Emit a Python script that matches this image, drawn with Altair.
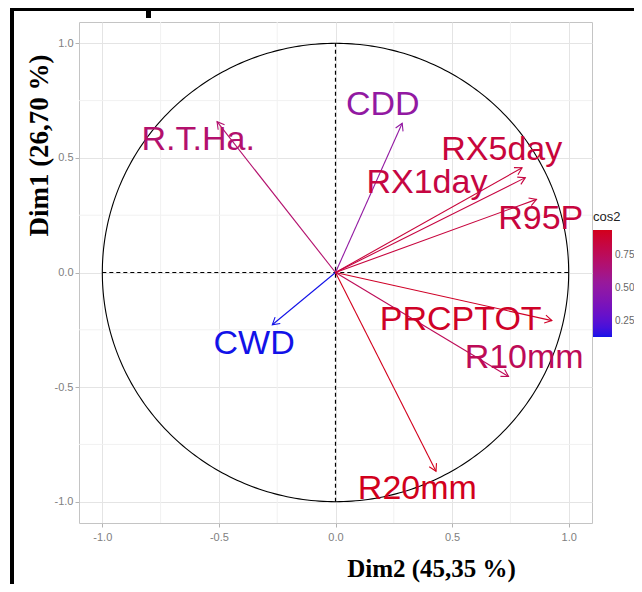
import altair as alt
import pandas as pd
import numpy as np

# ---- data ----
variables = ["CDD", "R.T.Ha.", "RX5day", "RX1day", "R95P", "CWD", "PRCPTOT", "R10mm", "R20mm"]
dim2 = [0.286, -0.508, 0.800, 0.814, 0.862, -0.271, 0.928, 0.742, 0.431]
dim1 = [0.651, 0.658, 0.457, 0.414, 0.319, -0.228, -0.210, -0.454, -0.867]
cos2 = [0.51, 0.69, 0.85, 0.83, 0.84, 0.13, 0.91, 0.76, 0.94]
label_x = [0.203, -0.589, 0.713, 0.392, 0.880, -0.349, 0.537, 0.809, 0.351]
label_y = [0.731, 0.578, 0.534, 0.390, 0.233, -0.314, -0.209, -0.371, -0.945]
major_ticks = [-1.0, -0.5, 0.0, 0.5, 1.0]
minor_ticks = [-0.75, -0.25, 0.25, 0.75]
legend_ticks = [0.25, 0.50, 0.75]

W, H = 513, 501
XDOM = [-1.1, 1.1]
YDOM = [-1.093, 1.093]
sx = W / (XDOM[1] - XDOM[0])
sy = H / (YDOM[1] - YDOM[0])

df = pd.DataFrame({"var": variables, "x": dim2, "y": dim1, "cos2": cos2,
                   "lx": label_x, "ly": label_y})
df["x0"] = 0.0
df["y0"] = 0.0
df["ang"] = np.degrees(np.arctan2(-df["y"] * sy, df["x"] * sx)) % 360

t = np.linspace(0, 2 * np.pi, 361)
circle = pd.DataFrame({"cx": np.cos(t), "cy": np.sin(t), "o": np.arange(361)})

xs = alt.Scale(domain=XDOM, nice=False, zero=False)
ys = alt.Scale(domain=YDOM, nice=False, zero=False)
cs = alt.Scale(domain=[min(cos2), max(cos2)],
               range=["#1212E8", "#961A9E", "#D2001C"], interpolate="lab")

lab_expr = "datum.value < 0 ? '-' + format(-datum.value, '.1f') : format(datum.value, '.1f')"

xaxis = alt.Axis(values=major_ticks, labelExpr=lab_expr, grid=True, gridColor="#e4e4e4",
                 domain=False, tickColor="#b3b3b3", tickSize=4, labelColor="#808080",
                 labelFontSize=11, labelFont="Liberation Sans", labelPadding=4,
                 title="Dim2 (45,35 %)", titleFont="Liberation Serif", titleFontWeight="bold",
                 titleFontSize=25, titleColor="black", titleX=352, titleY=45,
                 titleAlign="center", titleBaseline="middle")
yaxis = alt.Axis(values=major_ticks, labelExpr=lab_expr, grid=True, gridColor="#e4e4e4",
                 domain=False, tickColor="#b3b3b3", tickSize=4, labelColor="#808080",
                 labelFontSize=11, labelFont="Liberation Sans", labelPadding=2,
                 title="Dim1 (26,70 %)", titleFont="Liberation Serif", titleFontWeight="bold",
                 titleFontSize=27, titleColor="black", titleX=-40, titleY=123,
                 titleAlign="center", titleBaseline="middle", titleAngle=270)

legend = alt.Legend(title="cos2", type="gradient", orient="none", legendX=514, legendY=189,
                    direction="vertical", gradientLength=107, gradientThickness=19,
                    gradientStrokeWidth=0, values=legend_ticks, format=".2f",
                    titleFontSize=13, titleFont="Liberation Sans", titleFontWeight="normal",
                    titleColor="#222222", titlePadding=6, labelFontSize=10,
                    labelFont="Liberation Sans", labelColor="#666666", labelOffset=3,
                    labelOverlap=False)
color_leg = alt.Color("cos2:Q", scale=cs, legend=legend)
color_noleg = alt.Color("cos2:Q", scale=cs, legend=None)

minor_df = pd.DataFrame({"v": minor_ticks})
minor_x = alt.Chart(minor_df).mark_rule(color="#f1f1f1", strokeWidth=1).encode(
    x=alt.X("v:Q", scale=xs, axis=xaxis))
minor_y = alt.Chart(minor_df).mark_rule(color="#f1f1f1", strokeWidth=1).encode(
    y=alt.Y("v:Q", scale=ys, axis=yaxis))

ref_df = pd.DataFrame({"a": [-1.0, 0.0], "a2": [1.0, 0.0], "b": [0.0, -1.0], "b2": [0.0, 1.0]})
ref = alt.Chart(ref_df).mark_rule(color="black", strokeWidth=1.2, strokeDash=[4, 3]).encode(
    x=alt.X("a:Q", scale=xs, axis=xaxis), x2="a2:Q",
    y=alt.Y("b:Q", scale=ys, axis=yaxis), y2="b2:Q")

circ = alt.Chart(circle).mark_line(color="black", strokeWidth=1.1).encode(
    x=alt.X("cx:Q", scale=xs, axis=xaxis), y=alt.Y("cy:Q", scale=ys, axis=yaxis),
    order="o:Q")

arrows = alt.Chart(df).mark_rule(strokeWidth=1.1).encode(
    x=alt.X("x0:Q", scale=xs, axis=xaxis), x2="x:Q",
    y=alt.Y("y0:Q", scale=ys, axis=yaxis), y2="y:Q", color=color_leg)

heads = alt.Chart(df).mark_point(shape="M-1,-0.58L0,0L-1,0.58", filled=False, size=196,
                                 strokeWidth=1.1, opacity=1).encode(
    x=alt.X("x:Q", scale=xs, axis=xaxis), y=alt.Y("y:Q", scale=ys, axis=yaxis),
    angle=alt.Angle("ang:Q", scale=None), color=color_noleg)

labels = alt.Chart(df).mark_text(fontSize=34, font="Liberation Sans", align="center",
                                 baseline="middle").encode(
    x=alt.X("lx:Q", scale=xs, axis=xaxis), y=alt.Y("ly:Q", scale=ys, axis=yaxis),
    text="var:N", color=color_noleg)

# black frame remnants of the surrounding figure
frame_df = pd.DataFrame({"k": [0]})
frame_top = alt.Chart(frame_df).mark_rule(color="black", strokeWidth=4).encode(
    x=alt.value(-69), x2=alt.value(600), y=alt.value(-13))
frame_left = alt.Chart(frame_df).mark_rule(color="black", strokeWidth=4).encode(
    x=alt.value(-67), y=alt.value(-15), y2=alt.value(600))
frame_tick = alt.Chart(frame_df).mark_rule(color="black", strokeWidth=5).encode(
    x=alt.value(69.5), y=alt.value(-11), y2=alt.value(-4))

chart = alt.layer(minor_x, minor_y, ref, circ, arrows, heads, labels,
                  frame_top, frame_left, frame_tick).resolve_legend(
    color="independent"
).properties(
    width=W, height=H,
    autosize=alt.AutoSizeParams(type="none"),
    padding={"left": 71, "top": 14, "right": 42, "bottom": 61},
    background="white",
).configure_view(stroke="#c4c4c4", strokeWidth=1)

chart.save("out.html", embed_options={"renderer": "svg", "actions": False})
